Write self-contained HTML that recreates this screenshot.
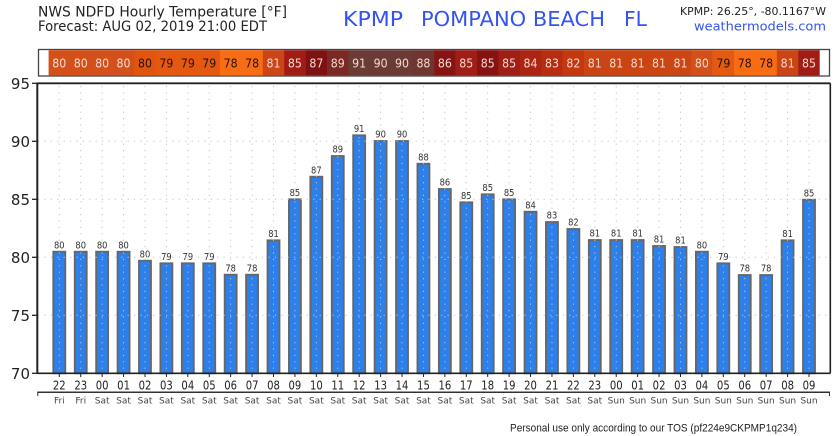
<!DOCTYPE html>
<html><head><meta charset="utf-8"><style>
html,body{margin:0;padding:0;background:#fff;}
svg{display:block;}
text{font-family:"DejaVu Sans","Liberation Sans",sans-serif;}
.s{font-size:12px;text-anchor:middle;}
.L{fill:#f5d8ce;}
.D{fill:#2a1208;}
.b{fill:#2d7fe9;stroke:#666;stroke-width:1.8;}
.g{stroke:#c4c4c4;stroke-width:1;stroke-dasharray:1.2 5.2;}
.v{font-size:9.5px;fill:#333;text-anchor:middle;}
.t{stroke:#222;stroke-width:1;}
.h{font-size:12px;fill:#222;text-anchor:middle;}
.d{font-size:9px;fill:#444;text-anchor:middle;}
</style></head><body>
<svg width="838" height="436" viewBox="0 0 838 436" xmlns="http://www.w3.org/2000/svg">
<rect width="838" height="436" fill="#fff"/>
<text x="38" y="16.7" font-size="14" fill="#222" textLength="249" lengthAdjust="spacingAndGlyphs">NWS NDFD Hourly Temperature [°F]</text>
<text x="38" y="31" font-size="14" fill="#222" textLength="229" lengthAdjust="spacingAndGlyphs">Forecast: AUG 02, 2019 21:00 EDT</text>
<text x="343" y="26" font-size="20" fill="#3553f0" textLength="60" lengthAdjust="spacingAndGlyphs">KPMP</text>
<text x="421" y="26" font-size="20" fill="#3553f0" textLength="184" lengthAdjust="spacingAndGlyphs">POMPANO BEACH</text>
<text x="624" y="26" font-size="20" fill="#3553f0" textLength="23" lengthAdjust="spacingAndGlyphs">FL</text>
<text x="680" y="15" font-size="11" fill="#222" textLength="146" lengthAdjust="spacingAndGlyphs">KPMP: 26.25°, -80.1167°W</text>
<text x="694" y="30.5" font-size="12" fill="#3553f0" textLength="132" lengthAdjust="spacingAndGlyphs">weathermodels.com</text>

<rect x="38.5" y="49.5" width="791" height="26.5" fill="#fff" stroke="#444" stroke-width="1.3"/>

<g transform="translate(59.30,0)"><rect x="-10.71" y="50.2" width="21.72" height="25.2" fill="#d4501a"/><text class="s L" y="67.3" textLength="14" lengthAdjust="spacingAndGlyphs">80</text><rect class="b" x="-6" y="251.7" width="12" height="121.6"/><line class="g" x1="0" y1="86" x2="0" y2="372"/><text class="v" y="248.3" textLength="10.6" lengthAdjust="spacingAndGlyphs">80</text><line class="t" y1="374" y2="377"/><text class="h" y="389.5" textLength="12.8" lengthAdjust="spacingAndGlyphs">22</text><text class="d" y="403.5">Fri</text></g>
<g transform="translate(80.72,0)"><rect x="-10.71" y="50.2" width="21.72" height="25.2" fill="#d4501a"/><text class="s L" y="67.3" textLength="14" lengthAdjust="spacingAndGlyphs">80</text><rect class="b" x="-6" y="251.7" width="12" height="121.6"/><line class="g" x1="0" y1="86" x2="0" y2="372"/><text class="v" y="248.3" textLength="10.6" lengthAdjust="spacingAndGlyphs">80</text><line class="t" y1="374" y2="377"/><text class="h" y="389.5" textLength="12.8" lengthAdjust="spacingAndGlyphs">23</text><text class="d" y="403.5">Fri</text></g>
<g transform="translate(102.14,0)"><rect x="-10.71" y="50.2" width="21.72" height="25.2" fill="#d4501a"/><text class="s L" y="67.3" textLength="14" lengthAdjust="spacingAndGlyphs">80</text><rect class="b" x="-6" y="251.7" width="12" height="121.6"/><line class="g" x1="0" y1="86" x2="0" y2="372"/><text class="v" y="248.3" textLength="10.6" lengthAdjust="spacingAndGlyphs">80</text><line class="t" y1="374" y2="377"/><text class="h" y="389.5" textLength="12.8" lengthAdjust="spacingAndGlyphs">00</text><text class="d" y="403.5">Sat</text></g>
<g transform="translate(123.56,0)"><rect x="-10.71" y="50.2" width="21.72" height="25.2" fill="#d4501a"/><text class="s L" y="67.3" textLength="14" lengthAdjust="spacingAndGlyphs">80</text><rect class="b" x="-6" y="251.7" width="12" height="121.6"/><line class="g" x1="0" y1="86" x2="0" y2="372"/><text class="v" y="248.3" textLength="10.6" lengthAdjust="spacingAndGlyphs">80</text><line class="t" y1="374" y2="377"/><text class="h" y="389.5" textLength="12.8" lengthAdjust="spacingAndGlyphs">01</text><text class="d" y="403.5">Sat</text></g>
<g transform="translate(144.98,0)"><rect x="-10.71" y="50.2" width="21.72" height="25.2" fill="#e0560f"/><text class="s D" y="67.3" textLength="14" lengthAdjust="spacingAndGlyphs">80</text><rect class="b" x="-6" y="260.7" width="12" height="112.6"/><line class="g" x1="0" y1="86" x2="0" y2="372"/><text class="v" y="257.3" textLength="10.6" lengthAdjust="spacingAndGlyphs">80</text><line class="t" y1="374" y2="377"/><text class="h" y="389.5" textLength="12.8" lengthAdjust="spacingAndGlyphs">02</text><text class="d" y="403.5">Sat</text></g>
<g transform="translate(166.40,0)"><rect x="-10.71" y="50.2" width="21.72" height="25.2" fill="#e4590f"/><text class="s D" y="67.3" textLength="14" lengthAdjust="spacingAndGlyphs">79</text><rect class="b" x="-6" y="263.3" width="12" height="110"/><line class="g" x1="0" y1="86" x2="0" y2="372"/><text class="v" y="259.9" textLength="10.6" lengthAdjust="spacingAndGlyphs">79</text><line class="t" y1="374" y2="377"/><text class="h" y="389.5" textLength="12.8" lengthAdjust="spacingAndGlyphs">03</text><text class="d" y="403.5">Sat</text></g>
<g transform="translate(187.82,0)"><rect x="-10.71" y="50.2" width="21.72" height="25.2" fill="#e4590f"/><text class="s D" y="67.3" textLength="14" lengthAdjust="spacingAndGlyphs">79</text><rect class="b" x="-6" y="263.3" width="12" height="110"/><line class="g" x1="0" y1="86" x2="0" y2="372"/><text class="v" y="259.9" textLength="10.6" lengthAdjust="spacingAndGlyphs">79</text><line class="t" y1="374" y2="377"/><text class="h" y="389.5" textLength="12.8" lengthAdjust="spacingAndGlyphs">04</text><text class="d" y="403.5">Sat</text></g>
<g transform="translate(209.24,0)"><rect x="-10.71" y="50.2" width="21.72" height="25.2" fill="#e4590f"/><text class="s D" y="67.3" textLength="14" lengthAdjust="spacingAndGlyphs">79</text><rect class="b" x="-6" y="263.3" width="12" height="110"/><line class="g" x1="0" y1="86" x2="0" y2="372"/><text class="v" y="259.9" textLength="10.6" lengthAdjust="spacingAndGlyphs">79</text><line class="t" y1="374" y2="377"/><text class="h" y="389.5" textLength="12.8" lengthAdjust="spacingAndGlyphs">05</text><text class="d" y="403.5">Sat</text></g>
<g transform="translate(230.66,0)"><rect x="-10.71" y="50.2" width="21.72" height="25.2" fill="#f86c13"/><text class="s D" y="67.3" textLength="14" lengthAdjust="spacingAndGlyphs">78</text><rect class="b" x="-6" y="274.7" width="12" height="98.6"/><line class="g" x1="0" y1="86" x2="0" y2="372"/><text class="v" y="271.3" textLength="10.6" lengthAdjust="spacingAndGlyphs">78</text><line class="t" y1="374" y2="377"/><text class="h" y="389.5" textLength="12.8" lengthAdjust="spacingAndGlyphs">06</text><text class="d" y="403.5">Sat</text></g>
<g transform="translate(252.08,0)"><rect x="-10.71" y="50.2" width="21.72" height="25.2" fill="#f86c13"/><text class="s D" y="67.3" textLength="14" lengthAdjust="spacingAndGlyphs">78</text><rect class="b" x="-6" y="274.7" width="12" height="98.6"/><line class="g" x1="0" y1="86" x2="0" y2="372"/><text class="v" y="271.3" textLength="10.6" lengthAdjust="spacingAndGlyphs">78</text><line class="t" y1="374" y2="377"/><text class="h" y="389.5" textLength="12.8" lengthAdjust="spacingAndGlyphs">07</text><text class="d" y="403.5">Sat</text></g>
<g transform="translate(273.50,0)"><rect x="-10.71" y="50.2" width="21.72" height="25.2" fill="#cc4517"/><text class="s L" y="67.3" textLength="14" lengthAdjust="spacingAndGlyphs">81</text><rect class="b" x="-6" y="240.3" width="12" height="133"/><line class="g" x1="0" y1="86" x2="0" y2="372"/><text class="v" y="236.9" textLength="10.6" lengthAdjust="spacingAndGlyphs">81</text><line class="t" y1="374" y2="377"/><text class="h" y="389.5" textLength="12.8" lengthAdjust="spacingAndGlyphs">08</text><text class="d" y="403.5">Sat</text></g>
<g transform="translate(294.92,0)"><rect x="-10.71" y="50.2" width="21.72" height="25.2" fill="#a21c16"/><text class="s L" y="67.3" textLength="14" lengthAdjust="spacingAndGlyphs">85</text><rect class="b" x="-6" y="199.3" width="12" height="174"/><line class="g" x1="0" y1="86" x2="0" y2="372"/><text class="v" y="195.9" textLength="10.6" lengthAdjust="spacingAndGlyphs">85</text><line class="t" y1="374" y2="377"/><text class="h" y="389.5" textLength="12.8" lengthAdjust="spacingAndGlyphs">09</text><text class="d" y="403.5">Sat</text></g>
<g transform="translate(316.34,0)"><rect x="-10.71" y="50.2" width="21.72" height="25.2" fill="#7e1212"/><text class="s L" y="67.3" textLength="14" lengthAdjust="spacingAndGlyphs">87</text><rect class="b" x="-6" y="176.7" width="12" height="196.6"/><line class="g" x1="0" y1="86" x2="0" y2="372"/><text class="v" y="173.3" textLength="10.6" lengthAdjust="spacingAndGlyphs">87</text><line class="t" y1="374" y2="377"/><text class="h" y="389.5" textLength="12.8" lengthAdjust="spacingAndGlyphs">10</text><text class="d" y="403.5">Sat</text></g>
<g transform="translate(337.76,0)"><rect x="-10.71" y="50.2" width="21.72" height="25.2" fill="#7a2924"/><text class="s L" y="67.3" textLength="14" lengthAdjust="spacingAndGlyphs">89</text><rect class="b" x="-6" y="156" width="12" height="217.3"/><line class="g" x1="0" y1="86" x2="0" y2="372"/><text class="v" y="152.6" textLength="10.6" lengthAdjust="spacingAndGlyphs">89</text><line class="t" y1="374" y2="377"/><text class="h" y="389.5" textLength="12.8" lengthAdjust="spacingAndGlyphs">11</text><text class="d" y="403.5">Sat</text></g>
<g transform="translate(359.18,0)"><rect x="-10.71" y="50.2" width="21.72" height="25.2" fill="#6b3b35"/><text class="s L" y="67.3" textLength="14" lengthAdjust="spacingAndGlyphs">91</text><rect class="b" x="-6" y="135.3" width="12" height="238"/><line class="g" x1="0" y1="86" x2="0" y2="372"/><text class="v" y="131.9" textLength="10.6" lengthAdjust="spacingAndGlyphs">91</text><line class="t" y1="374" y2="377"/><text class="h" y="389.5" textLength="12.8" lengthAdjust="spacingAndGlyphs">12</text><text class="d" y="403.5">Sat</text></g>
<g transform="translate(380.60,0)"><rect x="-10.71" y="50.2" width="21.72" height="25.2" fill="#6c3a34"/><text class="s L" y="67.3" textLength="14" lengthAdjust="spacingAndGlyphs">90</text><rect class="b" x="-6" y="141" width="12" height="232.3"/><line class="g" x1="0" y1="86" x2="0" y2="372"/><text class="v" y="137.6" textLength="10.6" lengthAdjust="spacingAndGlyphs">90</text><line class="t" y1="374" y2="377"/><text class="h" y="389.5" textLength="12.8" lengthAdjust="spacingAndGlyphs">13</text><text class="d" y="403.5">Sat</text></g>
<g transform="translate(402.02,0)"><rect x="-10.71" y="50.2" width="21.72" height="25.2" fill="#6c3a34"/><text class="s L" y="67.3" textLength="14" lengthAdjust="spacingAndGlyphs">90</text><rect class="b" x="-6" y="141" width="12" height="232.3"/><line class="g" x1="0" y1="86" x2="0" y2="372"/><text class="v" y="137.6" textLength="10.6" lengthAdjust="spacingAndGlyphs">90</text><line class="t" y1="374" y2="377"/><text class="h" y="389.5" textLength="12.8" lengthAdjust="spacingAndGlyphs">14</text><text class="d" y="403.5">Sat</text></g>
<g transform="translate(423.44,0)"><rect x="-10.71" y="50.2" width="21.72" height="25.2" fill="#6f3530"/><text class="s L" y="67.3" textLength="14" lengthAdjust="spacingAndGlyphs">88</text><rect class="b" x="-6" y="163.7" width="12" height="209.6"/><line class="g" x1="0" y1="86" x2="0" y2="372"/><text class="v" y="160.3" textLength="10.6" lengthAdjust="spacingAndGlyphs">88</text><line class="t" y1="374" y2="377"/><text class="h" y="389.5" textLength="12.8" lengthAdjust="spacingAndGlyphs">15</text><text class="d" y="403.5">Sat</text></g>
<g transform="translate(444.86,0)"><rect x="-10.71" y="50.2" width="21.72" height="25.2" fill="#851515"/><text class="s L" y="67.3" textLength="14" lengthAdjust="spacingAndGlyphs">86</text><rect class="b" x="-6" y="189" width="12" height="184.3"/><line class="g" x1="0" y1="86" x2="0" y2="372"/><text class="v" y="185.6" textLength="10.6" lengthAdjust="spacingAndGlyphs">86</text><line class="t" y1="374" y2="377"/><text class="h" y="389.5" textLength="12.8" lengthAdjust="spacingAndGlyphs">16</text><text class="d" y="403.5">Sat</text></g>
<g transform="translate(466.28,0)"><rect x="-10.71" y="50.2" width="21.72" height="25.2" fill="#a01e17"/><text class="s L" y="67.3" textLength="14" lengthAdjust="spacingAndGlyphs">85</text><rect class="b" x="-6" y="202.3" width="12" height="171"/><line class="g" x1="0" y1="86" x2="0" y2="372"/><text class="v" y="198.9" textLength="10.6" lengthAdjust="spacingAndGlyphs">85</text><line class="t" y1="374" y2="377"/><text class="h" y="389.5" textLength="12.8" lengthAdjust="spacingAndGlyphs">17</text><text class="d" y="403.5">Sat</text></g>
<g transform="translate(487.70,0)"><rect x="-10.71" y="50.2" width="21.72" height="25.2" fill="#871212"/><text class="s L" y="67.3" textLength="14" lengthAdjust="spacingAndGlyphs">85</text><rect class="b" x="-6" y="194.3" width="12" height="179"/><line class="g" x1="0" y1="86" x2="0" y2="372"/><text class="v" y="190.9" textLength="10.6" lengthAdjust="spacingAndGlyphs">85</text><line class="t" y1="374" y2="377"/><text class="h" y="389.5" textLength="12.8" lengthAdjust="spacingAndGlyphs">18</text><text class="d" y="403.5">Sat</text></g>
<g transform="translate(509.12,0)"><rect x="-10.71" y="50.2" width="21.72" height="25.2" fill="#9f1e16"/><text class="s L" y="67.3" textLength="14" lengthAdjust="spacingAndGlyphs">85</text><rect class="b" x="-6" y="199.3" width="12" height="174"/><line class="g" x1="0" y1="86" x2="0" y2="372"/><text class="v" y="195.9" textLength="10.6" lengthAdjust="spacingAndGlyphs">85</text><line class="t" y1="374" y2="377"/><text class="h" y="389.5" textLength="12.8" lengthAdjust="spacingAndGlyphs">19</text><text class="d" y="403.5">Sat</text></g>
<g transform="translate(530.54,0)"><rect x="-10.71" y="50.2" width="21.72" height="25.2" fill="#ac2512"/><text class="s L" y="67.3" textLength="14" lengthAdjust="spacingAndGlyphs">84</text><rect class="b" x="-6" y="211.7" width="12" height="161.6"/><line class="g" x1="0" y1="86" x2="0" y2="372"/><text class="v" y="208.3" textLength="10.6" lengthAdjust="spacingAndGlyphs">84</text><line class="t" y1="374" y2="377"/><text class="h" y="389.5" textLength="12.8" lengthAdjust="spacingAndGlyphs">20</text><text class="d" y="403.5">Sat</text></g>
<g transform="translate(551.96,0)"><rect x="-10.71" y="50.2" width="21.72" height="25.2" fill="#b82d10"/><text class="s L" y="67.3" textLength="14" lengthAdjust="spacingAndGlyphs">83</text><rect class="b" x="-6" y="222" width="12" height="151.3"/><line class="g" x1="0" y1="86" x2="0" y2="372"/><text class="v" y="218.6" textLength="10.6" lengthAdjust="spacingAndGlyphs">83</text><line class="t" y1="374" y2="377"/><text class="h" y="389.5" textLength="12.8" lengthAdjust="spacingAndGlyphs">21</text><text class="d" y="403.5">Sat</text></g>
<g transform="translate(573.38,0)"><rect x="-10.71" y="50.2" width="21.72" height="25.2" fill="#c3380f"/><text class="s L" y="67.3" textLength="14" lengthAdjust="spacingAndGlyphs">82</text><rect class="b" x="-6" y="229" width="12" height="144.3"/><line class="g" x1="0" y1="86" x2="0" y2="372"/><text class="v" y="225.6" textLength="10.6" lengthAdjust="spacingAndGlyphs">82</text><line class="t" y1="374" y2="377"/><text class="h" y="389.5" textLength="12.8" lengthAdjust="spacingAndGlyphs">22</text><text class="d" y="403.5">Sat</text></g>
<g transform="translate(594.80,0)"><rect x="-10.71" y="50.2" width="21.72" height="25.2" fill="#cb4413"/><text class="s L" y="67.3" textLength="14" lengthAdjust="spacingAndGlyphs">81</text><rect class="b" x="-6" y="240" width="12" height="133.3"/><line class="g" x1="0" y1="86" x2="0" y2="372"/><text class="v" y="236.6" textLength="10.6" lengthAdjust="spacingAndGlyphs">81</text><line class="t" y1="374" y2="377"/><text class="h" y="389.5" textLength="12.8" lengthAdjust="spacingAndGlyphs">23</text><text class="d" y="403.5">Sat</text></g>
<g transform="translate(616.22,0)"><rect x="-10.71" y="50.2" width="21.72" height="25.2" fill="#cb4413"/><text class="s L" y="67.3" textLength="14" lengthAdjust="spacingAndGlyphs">81</text><rect class="b" x="-6" y="240" width="12" height="133.3"/><line class="g" x1="0" y1="86" x2="0" y2="372"/><text class="v" y="236.6" textLength="10.6" lengthAdjust="spacingAndGlyphs">81</text><line class="t" y1="374" y2="377"/><text class="h" y="389.5" textLength="12.8" lengthAdjust="spacingAndGlyphs">00</text><text class="d" y="403.5">Sun</text></g>
<g transform="translate(637.64,0)"><rect x="-10.71" y="50.2" width="21.72" height="25.2" fill="#cb4413"/><text class="s L" y="67.3" textLength="14" lengthAdjust="spacingAndGlyphs">81</text><rect class="b" x="-6" y="240" width="12" height="133.3"/><line class="g" x1="0" y1="86" x2="0" y2="372"/><text class="v" y="236.6" textLength="10.6" lengthAdjust="spacingAndGlyphs">81</text><line class="t" y1="374" y2="377"/><text class="h" y="389.5" textLength="12.8" lengthAdjust="spacingAndGlyphs">01</text><text class="d" y="403.5">Sun</text></g>
<g transform="translate(659.06,0)"><rect x="-10.71" y="50.2" width="21.72" height="25.2" fill="#cc4614"/><text class="s L" y="67.3" textLength="14" lengthAdjust="spacingAndGlyphs">81</text><rect class="b" x="-6" y="246" width="12" height="127.3"/><line class="g" x1="0" y1="86" x2="0" y2="372"/><text class="v" y="242.6" textLength="10.6" lengthAdjust="spacingAndGlyphs">81</text><line class="t" y1="374" y2="377"/><text class="h" y="389.5" textLength="12.8" lengthAdjust="spacingAndGlyphs">02</text><text class="d" y="403.5">Sun</text></g>
<g transform="translate(680.48,0)"><rect x="-10.71" y="50.2" width="21.72" height="25.2" fill="#cc4614"/><text class="s L" y="67.3" textLength="14" lengthAdjust="spacingAndGlyphs">81</text><rect class="b" x="-6" y="247" width="12" height="126.3"/><line class="g" x1="0" y1="86" x2="0" y2="372"/><text class="v" y="243.6" textLength="10.6" lengthAdjust="spacingAndGlyphs">81</text><line class="t" y1="374" y2="377"/><text class="h" y="389.5" textLength="12.8" lengthAdjust="spacingAndGlyphs">03</text><text class="d" y="403.5">Sun</text></g>
<g transform="translate(701.90,0)"><rect x="-10.71" y="50.2" width="21.72" height="25.2" fill="#d4501a"/><text class="s L" y="67.3" textLength="14" lengthAdjust="spacingAndGlyphs">80</text><rect class="b" x="-6" y="251.7" width="12" height="121.6"/><line class="g" x1="0" y1="86" x2="0" y2="372"/><text class="v" y="248.3" textLength="10.6" lengthAdjust="spacingAndGlyphs">80</text><line class="t" y1="374" y2="377"/><text class="h" y="389.5" textLength="12.8" lengthAdjust="spacingAndGlyphs">04</text><text class="d" y="403.5">Sun</text></g>
<g transform="translate(723.32,0)"><rect x="-10.71" y="50.2" width="21.72" height="25.2" fill="#e35a10"/><text class="s D" y="67.3" textLength="14" lengthAdjust="spacingAndGlyphs">79</text><rect class="b" x="-6" y="263.3" width="12" height="110"/><line class="g" x1="0" y1="86" x2="0" y2="372"/><text class="v" y="259.9" textLength="10.6" lengthAdjust="spacingAndGlyphs">79</text><line class="t" y1="374" y2="377"/><text class="h" y="389.5" textLength="12.8" lengthAdjust="spacingAndGlyphs">05</text><text class="d" y="403.5">Sun</text></g>
<g transform="translate(744.74,0)"><rect x="-10.71" y="50.2" width="21.72" height="25.2" fill="#f86c13"/><text class="s D" y="67.3" textLength="14" lengthAdjust="spacingAndGlyphs">78</text><rect class="b" x="-6" y="275" width="12" height="98.3"/><line class="g" x1="0" y1="86" x2="0" y2="372"/><text class="v" y="271.6" textLength="10.6" lengthAdjust="spacingAndGlyphs">78</text><line class="t" y1="374" y2="377"/><text class="h" y="389.5" textLength="12.8" lengthAdjust="spacingAndGlyphs">06</text><text class="d" y="403.5">Sun</text></g>
<g transform="translate(766.16,0)"><rect x="-10.71" y="50.2" width="21.72" height="25.2" fill="#f86c13"/><text class="s D" y="67.3" textLength="14" lengthAdjust="spacingAndGlyphs">78</text><rect class="b" x="-6" y="275" width="12" height="98.3"/><line class="g" x1="0" y1="86" x2="0" y2="372"/><text class="v" y="271.6" textLength="10.6" lengthAdjust="spacingAndGlyphs">78</text><line class="t" y1="374" y2="377"/><text class="h" y="389.5" textLength="12.8" lengthAdjust="spacingAndGlyphs">07</text><text class="d" y="403.5">Sun</text></g>
<g transform="translate(787.58,0)"><rect x="-10.71" y="50.2" width="21.72" height="25.2" fill="#cb4413"/><text class="s L" y="67.3" textLength="14" lengthAdjust="spacingAndGlyphs">81</text><rect class="b" x="-6" y="240.3" width="12" height="133"/><line class="g" x1="0" y1="86" x2="0" y2="372"/><text class="v" y="236.9" textLength="10.6" lengthAdjust="spacingAndGlyphs">81</text><line class="t" y1="374" y2="377"/><text class="h" y="389.5" textLength="12.8" lengthAdjust="spacingAndGlyphs">08</text><text class="d" y="403.5">Sun</text></g>
<g transform="translate(809.00,0)"><rect x="-10.71" y="50.2" width="21.42" height="25.2" fill="#a21c16"/><text class="s L" y="67.3" textLength="14" lengthAdjust="spacingAndGlyphs">85</text><rect class="b" x="-6" y="199.7" width="12" height="173.6"/><line class="g" x1="0" y1="86" x2="0" y2="372"/><text class="v" y="196.3" textLength="10.6" lengthAdjust="spacingAndGlyphs">85</text><line class="t" y1="374" y2="377"/><text class="h" y="389.5" textLength="12.8" lengthAdjust="spacingAndGlyphs">09</text><text class="d" y="403.5">Sun</text></g>

<g class="g">
<line class="g" x1="38" y1="141.3" x2="829" y2="141.3"/>
<line class="g" x1="38" y1="199.3" x2="829" y2="199.3"/>
<line class="g" x1="38" y1="257.3" x2="829" y2="257.3"/>
<line class="g" x1="38" y1="315.3" x2="829" y2="315.3"/>
</g>

<line x1="37.3" y1="83.3" x2="830.5" y2="83.3" stroke="#222" stroke-width="1.8"/>
<line x1="830.3" y1="83.3" x2="830.3" y2="373.3" stroke="#222" stroke-width="1.6"/>
<line x1="37.3" y1="82.5" x2="37.3" y2="374" stroke="#222" stroke-width="2"/>
<line x1="36.5" y1="373.3" x2="830.5" y2="373.3" stroke="#222" stroke-width="1.6"/>
<g stroke="#222" stroke-width="1.3">
<line x1="32" y1="83.3" x2="37" y2="83.3"/>
<line x1="32" y1="141.3" x2="37" y2="141.3"/>
<line x1="32" y1="199.3" x2="37" y2="199.3"/>
<line x1="32" y1="257.3" x2="37" y2="257.3"/>
<line x1="32" y1="315.3" x2="37" y2="315.3"/>
<line x1="32" y1="373.3" x2="37" y2="373.3"/>
</g>
<g font-size="15" fill="#222" text-anchor="end">
<text x="30" y="89">95</text>
<text x="30" y="147">90</text>
<text x="30" y="205">85</text>
<text x="30" y="263">80</text>
<text x="30" y="321">75</text>
<text x="30" y="379">70</text>
</g>
<line x1="37.3" y1="392.3" x2="830" y2="392.3" stroke="#333" stroke-width="1.5"/>
<line x1="37.8" y1="392" x2="37.8" y2="396" stroke="#333" stroke-width="1"/>
<line x1="829.5" y1="392" x2="829.5" y2="396" stroke="#333" stroke-width="1"/>

<text x="510" y="431.5" font-size="11" fill="#222" textLength="287" lengthAdjust="spacingAndGlyphs" style="font-family:'Liberation Sans',sans-serif">Personal use only according to our TOS (pf224e9CKPMP1q234)</text>
</svg>
</body></html>
